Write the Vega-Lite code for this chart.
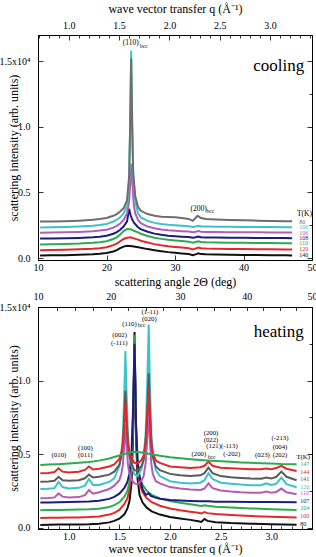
{
"$schema":"https://vega.github.io/schema/vega-lite/v6.json",
"padding":{"left":-2,"top":1,"right":0,"bottom":0},
"config":{"font":"Liberation Serif","view":{"stroke":"black","strokeWidth":1},
"axis":{"grid":false,"domainColor":"black","tickColor":"black","labelColor":"black","titleColor":"black","labelFontSize":10,"titleFontSize":12,"titleFontWeight":"normal","labelFlush":false,"labelOverlap":false,"labelBound":false,"tickWidth":0.8,"domainWidth":0.8}},
"datasets":{
"cool":[
{"s":"140","x":10.3,"y":0.02},{"s":"140","x":12,"y":0.022},{"s":"140","x":14,"y":0.022},{"s":"140","x":16,"y":0.025},{"s":"140","x":18,"y":0.028},{"s":"140","x":19,"y":0.032},{"s":"140","x":20,"y":0.038},{"s":"140","x":21,"y":0.05},{"s":"140","x":21.5,"y":0.06},{"s":"140","x":22,"y":0.075},{"s":"140","x":22.5,"y":0.087},{"s":"140","x":23,"y":0.093},{"s":"140","x":23.5,"y":0.092},{"s":"140","x":24,"y":0.088},{"s":"140","x":24.6,"y":0.083},{"s":"140","x":25,"y":0.078},{"s":"140","x":26,"y":0.068},{"s":"140","x":27,"y":0.06},{"s":"140","x":28,"y":0.052},{"s":"140","x":29,"y":0.045},{"s":"140","x":30,"y":0.04},{"s":"140","x":31,"y":0.035},{"s":"140","x":32,"y":0.03},{"s":"140","x":32.6,"y":0.022},{"s":"140","x":33,"y":0.028},{"s":"140","x":33.4,"y":0.036},{"s":"140","x":33.8,"y":0.03},{"s":"140","x":34.5,"y":0.028},{"s":"140","x":36,"y":0.027},{"s":"140","x":38,"y":0.025},{"s":"140","x":40,"y":0.024},{"s":"140","x":42,"y":0.023},{"s":"140","x":44,"y":0.022},{"s":"140","x":46,"y":0.021},{"s":"140","x":47.1,"y":0.02},
{"s":"120","x":10.3,"y":0.06},{"s":"120","x":12,"y":0.062},{"s":"120","x":14,"y":0.063},{"s":"120","x":16,"y":0.066},{"s":"120","x":18,"y":0.07},{"s":"120","x":19,"y":0.075},{"s":"120","x":20,"y":0.082},{"s":"120","x":21,"y":0.098},{"s":"120","x":21.5,"y":0.11},{"s":"120","x":22,"y":0.128},{"s":"120","x":22.5,"y":0.145},{"s":"120","x":23,"y":0.155},{"s":"120","x":23.5,"y":0.158},{"s":"120","x":24,"y":0.15},{"s":"120","x":24.6,"y":0.14},{"s":"120","x":25,"y":0.132},{"s":"120","x":26,"y":0.118},{"s":"120","x":27,"y":0.106},{"s":"120","x":28,"y":0.097},{"s":"120","x":29,"y":0.09},{"s":"120","x":30,"y":0.085},{"s":"120","x":31,"y":0.08},{"s":"120","x":32,"y":0.075},{"s":"120","x":32.6,"y":0.066},{"s":"120","x":33,"y":0.072},{"s":"120","x":33.4,"y":0.08},{"s":"120","x":33.8,"y":0.074},{"s":"120","x":34.5,"y":0.072},{"s":"120","x":36,"y":0.07},{"s":"120","x":38,"y":0.069},{"s":"120","x":40,"y":0.068},{"s":"120","x":42,"y":0.067},{"s":"120","x":44,"y":0.066},{"s":"120","x":46,"y":0.065},{"s":"120","x":47.1,"y":0.065},
{"s":"110","x":10.3,"y":0.103},{"s":"110","x":12,"y":0.105},{"s":"110","x":14,"y":0.107},{"s":"110","x":16,"y":0.11},{"s":"110","x":18,"y":0.116},{"s":"110","x":19,"y":0.121},{"s":"110","x":20,"y":0.128},{"s":"110","x":21,"y":0.145},{"s":"110","x":21.5,"y":0.158},{"s":"110","x":22,"y":0.18},{"s":"110","x":22.5,"y":0.205},{"s":"110","x":23,"y":0.222},{"s":"110","x":23.5,"y":0.22},{"s":"110","x":24,"y":0.208},{"s":"110","x":24.6,"y":0.195},{"s":"110","x":25,"y":0.185},{"s":"110","x":26,"y":0.168},{"s":"110","x":27,"y":0.155},{"s":"110","x":28,"y":0.146},{"s":"110","x":29,"y":0.139},{"s":"110","x":30,"y":0.134},{"s":"110","x":31,"y":0.13},{"s":"110","x":32,"y":0.125},{"s":"110","x":32.6,"y":0.116},{"s":"110","x":33,"y":0.122},{"s":"110","x":33.4,"y":0.127},{"s":"110","x":33.8,"y":0.122},{"s":"110","x":34.5,"y":0.12},{"s":"110","x":36,"y":0.118},{"s":"110","x":38,"y":0.117},{"s":"110","x":40,"y":0.116},{"s":"110","x":42,"y":0.115},{"s":"110","x":44,"y":0.114},{"s":"110","x":46,"y":0.113},{"s":"110","x":47.1,"y":0.113},
{"s":"108","x":10.3,"y":0.148},{"s":"108","x":12,"y":0.149},{"s":"108","x":14,"y":0.15},{"s":"108","x":16,"y":0.153},{"s":"108","x":18,"y":0.158},{"s":"108","x":19,"y":0.163},{"s":"108","x":20,"y":0.17},{"s":"108","x":21,"y":0.185},{"s":"108","x":21.5,"y":0.198},{"s":"108","x":22,"y":0.215},{"s":"108","x":22.5,"y":0.24},{"s":"108","x":23,"y":0.28},{"s":"108","x":23.3,"y":0.375},{"s":"108","x":23.5,"y":0.33},{"s":"108","x":23.7,"y":0.3},{"s":"108","x":24,"y":0.27},{"s":"108","x":24.6,"y":0.235},{"s":"108","x":25,"y":0.22},{"s":"108","x":26,"y":0.2},{"s":"108","x":27,"y":0.186},{"s":"108","x":28,"y":0.177},{"s":"108","x":29,"y":0.17},{"s":"108","x":30,"y":0.166},{"s":"108","x":31,"y":0.163},{"s":"108","x":32,"y":0.16},{"s":"108","x":32.6,"y":0.154},{"s":"108","x":33,"y":0.158},{"s":"108","x":33.4,"y":0.163},{"s":"108","x":33.8,"y":0.159},{"s":"108","x":34.5,"y":0.157},{"s":"108","x":36,"y":0.156},{"s":"108","x":38,"y":0.155},{"s":"108","x":40,"y":0.154},{"s":"108","x":42,"y":0.153},{"s":"108","x":44,"y":0.152},{"s":"108","x":46,"y":0.152},{"s":"108","x":47.1,"y":0.151},
{"s":"106","x":10.3,"y":0.193},{"s":"106","x":12,"y":0.194},{"s":"106","x":14,"y":0.196},{"s":"106","x":16,"y":0.199},{"s":"106","x":18,"y":0.204},{"s":"106","x":19,"y":0.209},{"s":"106","x":20,"y":0.216},{"s":"106","x":21,"y":0.232},{"s":"106","x":21.5,"y":0.245},{"s":"106","x":22,"y":0.263},{"s":"106","x":22.5,"y":0.29},{"s":"106","x":23,"y":0.34},{"s":"106","x":23.3,"y":0.43},{"s":"106","x":23.5,"y":0.6},{"s":"106","x":23.65,"y":0.72},{"s":"106","x":23.8,"y":0.55},{"s":"106","x":24,"y":0.4},{"s":"106","x":24.2,"y":0.34},{"s":"106","x":24.6,"y":0.29},{"s":"106","x":25,"y":0.265},{"s":"106","x":26,"y":0.24},{"s":"106","x":27,"y":0.227},{"s":"106","x":28,"y":0.218},{"s":"106","x":29,"y":0.212},{"s":"106","x":30,"y":0.208},{"s":"106","x":31,"y":0.205},{"s":"106","x":32,"y":0.203},{"s":"106","x":32.6,"y":0.197},{"s":"106","x":33,"y":0.2},{"s":"106","x":33.4,"y":0.205},{"s":"106","x":33.8,"y":0.2},{"s":"106","x":34.5,"y":0.199},{"s":"106","x":36,"y":0.198},{"s":"106","x":38,"y":0.197},{"s":"106","x":40,"y":0.196},{"s":"106","x":42,"y":0.196},{"s":"106","x":44,"y":0.195},{"s":"106","x":46,"y":0.195},{"s":"106","x":47.1,"y":0.195},
{"s":"100","x":10.3,"y":0.233},{"s":"100","x":12,"y":0.234},{"s":"100","x":14,"y":0.236},{"s":"100","x":16,"y":0.24},{"s":"100","x":18,"y":0.246},{"s":"100","x":19,"y":0.252},{"s":"100","x":20,"y":0.26},{"s":"100","x":21,"y":0.278},{"s":"100","x":21.5,"y":0.292},{"s":"100","x":22,"y":0.31},{"s":"100","x":22.5,"y":0.34},{"s":"100","x":23,"y":0.4},{"s":"100","x":23.3,"y":0.58},{"s":"100","x":23.45,"y":1.0},{"s":"100","x":23.6,"y":1.58},{"s":"100","x":23.75,"y":1.05},{"s":"100","x":23.9,"y":0.62},{"s":"100","x":24.2,"y":0.43},{"s":"100","x":24.6,"y":0.34},{"s":"100","x":25,"y":0.31},{"s":"100","x":26,"y":0.283},{"s":"100","x":27,"y":0.268},{"s":"100","x":28,"y":0.259},{"s":"100","x":29,"y":0.253},{"s":"100","x":30,"y":0.249},{"s":"100","x":31,"y":0.246},{"s":"100","x":32,"y":0.243},{"s":"100","x":32.6,"y":0.236},{"s":"100","x":33,"y":0.24},{"s":"100","x":33.4,"y":0.245},{"s":"100","x":33.8,"y":0.241},{"s":"100","x":34.5,"y":0.24},{"s":"100","x":36,"y":0.239},{"s":"100","x":38,"y":0.238},{"s":"100","x":40,"y":0.237},{"s":"100","x":42,"y":0.236},{"s":"100","x":44,"y":0.236},{"s":"100","x":46,"y":0.235},{"s":"100","x":47.1,"y":0.235},
{"s":"80","x":10.3,"y":0.278},{"s":"80","x":12,"y":0.279},{"s":"80","x":14,"y":0.281},{"s":"80","x":16,"y":0.285},{"s":"80","x":18,"y":0.291},{"s":"80","x":19,"y":0.297},{"s":"80","x":20,"y":0.305},{"s":"80","x":21,"y":0.322},{"s":"80","x":21.5,"y":0.335},{"s":"80","x":22,"y":0.355},{"s":"80","x":22.5,"y":0.38},{"s":"80","x":23,"y":0.44},{"s":"80","x":23.3,"y":0.62},{"s":"80","x":23.45,"y":1.0},{"s":"80","x":23.6,"y":1.52},{"s":"80","x":23.75,"y":1.0},{"s":"80","x":23.9,"y":0.65},{"s":"80","x":24.2,"y":0.47},{"s":"80","x":24.6,"y":0.39},{"s":"80","x":25,"y":0.36},{"s":"80","x":26,"y":0.335},{"s":"80","x":27,"y":0.322},{"s":"80","x":28,"y":0.315},{"s":"80","x":29,"y":0.312},{"s":"80","x":30,"y":0.31},{"s":"80","x":31,"y":0.305},{"s":"80","x":32,"y":0.298},{"s":"80","x":32.6,"y":0.283},{"s":"80","x":33,"y":0.305},{"s":"80","x":33.3,"y":0.322},{"s":"80","x":33.8,"y":0.305},{"s":"80","x":34.5,"y":0.298},{"s":"80","x":36,"y":0.294},{"s":"80","x":38,"y":0.29},{"s":"80","x":40,"y":0.288},{"s":"80","x":42,"y":0.285},{"s":"80","x":44,"y":0.283},{"s":"80","x":46,"y":0.281},{"s":"80","x":47.1,"y":0.28}
],
"coolLab":[{"s":"80","x":48.15,"y":0.274},{"s":"100","x":48.15,"y":0.236},{"s":"106","x":48.15,"y":0.193},{"s":"108","x":48.15,"y":0.152},{"s":"110","x":48.15,"y":0.114},{"s":"120","x":48.15,"y":0.066},{"s":"140","x":48.15,"y":0.02}],
"coolAnn":[{"t":"(110)","x":23.55,"y":1.636},{"t":"(200)","x":33.46,"y":0.371},{"t":"T(K)","x":48.9,"y":0.333}],
"coolSub":[{"t":"bcc","x":25.45,"y":1.617},{"t":"bcc","x":35.15,"y":0.358}],
"heat":[
{"s":"80","x":0.72,"y":0.018},{"s":"80","x":0.8,"y":0.019},{"s":"80","x":0.9,"y":0.02},{"s":"80","x":1.0,"y":0.02},{"s":"80","x":1.1,"y":0.021},{"s":"80","x":1.2,"y":0.022},{"s":"80","x":1.3,"y":0.025},{"s":"80","x":1.4,"y":0.035},{"s":"80","x":1.45,"y":0.045},{"s":"80","x":1.5,"y":0.06},{"s":"80","x":1.55,"y":0.09},{"s":"80","x":1.58,"y":0.13},{"s":"80","x":1.6,"y":0.18},{"s":"80","x":1.62,"y":0.3},{"s":"80","x":1.635,"y":0.6},{"s":"80","x":1.645,"y":1.05},{"s":"80","x":1.65,"y":1.33},{"s":"80","x":1.655,"y":1.05},{"s":"80","x":1.665,"y":0.6},{"s":"80","x":1.68,"y":0.33},{"s":"80","x":1.7,"y":0.22},{"s":"80","x":1.73,"y":0.17},{"s":"80","x":1.77,"y":0.135},{"s":"80","x":1.82,"y":0.11},{"s":"80","x":1.9,"y":0.088},{"s":"80","x":2.0,"y":0.072},{"s":"80","x":2.1,"y":0.062},{"s":"80","x":2.2,"y":0.052},{"s":"80","x":2.28,"y":0.043},{"s":"80","x":2.31,"y":0.038},{"s":"80","x":2.34,"y":0.058},{"s":"80","x":2.37,"y":0.045},{"s":"80","x":2.45,"y":0.036},{"s":"80","x":2.6,"y":0.03},{"s":"80","x":2.8,"y":0.026},{"s":"80","x":3.0,"y":0.023},{"s":"80","x":3.25,"y":0.019},
{"s":"100","x":0.72,"y":0.065},{"s":"100","x":0.8,"y":0.066},{"s":"100","x":0.9,"y":0.067},{"s":"100","x":1.0,"y":0.068},{"s":"100","x":1.1,"y":0.069},{"s":"100","x":1.2,"y":0.071},{"s":"100","x":1.3,"y":0.075},{"s":"100","x":1.4,"y":0.088},{"s":"100","x":1.45,"y":0.1},{"s":"100","x":1.5,"y":0.12},{"s":"100","x":1.55,"y":0.16},{"s":"100","x":1.58,"y":0.2},{"s":"100","x":1.6,"y":0.26},{"s":"100","x":1.62,"y":0.38},{"s":"100","x":1.635,"y":0.7},{"s":"100","x":1.645,"y":1.05},{"s":"100","x":1.65,"y":1.28},{"s":"100","x":1.655,"y":1.05},{"s":"100","x":1.665,"y":0.65},{"s":"100","x":1.68,"y":0.4},{"s":"100","x":1.7,"y":0.3},{"s":"100","x":1.73,"y":0.24},{"s":"100","x":1.77,"y":0.2},{"s":"100","x":1.82,"y":0.172},{"s":"100","x":1.9,"y":0.148},{"s":"100","x":2.0,"y":0.13},{"s":"100","x":2.1,"y":0.118},{"s":"100","x":2.2,"y":0.108},{"s":"100","x":2.28,"y":0.1},{"s":"100","x":2.31,"y":0.096},{"s":"100","x":2.34,"y":0.105},{"s":"100","x":2.37,"y":0.098},{"s":"100","x":2.45,"y":0.092},{"s":"100","x":2.6,"y":0.085},{"s":"100","x":2.8,"y":0.078},{"s":"100","x":3.0,"y":0.073},{"s":"100","x":3.25,"y":0.068},
{"s":"104","x":0.72,"y":0.118},{"s":"104","x":0.8,"y":0.119},{"s":"104","x":0.9,"y":0.12},{"s":"104","x":1.0,"y":0.121},{"s":"104","x":1.1,"y":0.122},{"s":"104","x":1.2,"y":0.124},{"s":"104","x":1.3,"y":0.128},{"s":"104","x":1.4,"y":0.14},{"s":"104","x":1.45,"y":0.152},{"s":"104","x":1.5,"y":0.172},{"s":"104","x":1.55,"y":0.21},{"s":"104","x":1.58,"y":0.25},{"s":"104","x":1.6,"y":0.31},{"s":"104","x":1.62,"y":0.43},{"s":"104","x":1.635,"y":0.75},{"s":"104","x":1.645,"y":1.1},{"s":"104","x":1.65,"y":1.31},{"s":"104","x":1.655,"y":1.1},{"s":"104","x":1.665,"y":0.7},{"s":"104","x":1.68,"y":0.45},{"s":"104","x":1.7,"y":0.35},{"s":"104","x":1.73,"y":0.29},{"s":"104","x":1.77,"y":0.25},{"s":"104","x":1.82,"y":0.222},{"s":"104","x":1.9,"y":0.198},{"s":"104","x":2.0,"y":0.18},{"s":"104","x":2.1,"y":0.168},{"s":"104","x":2.2,"y":0.158},{"s":"104","x":2.28,"y":0.15},{"s":"104","x":2.31,"y":0.146},{"s":"104","x":2.34,"y":0.152},{"s":"104","x":2.37,"y":0.148},{"s":"104","x":2.45,"y":0.142},{"s":"104","x":2.6,"y":0.136},{"s":"104","x":2.8,"y":0.13},{"s":"104","x":3.0,"y":0.125},{"s":"104","x":3.25,"y":0.12},
{"s":"107","x":0.72,"y":0.17},{"s":"107","x":0.8,"y":0.171},{"s":"107","x":0.9,"y":0.172},{"s":"107","x":1.0,"y":0.173},{"s":"107","x":1.1,"y":0.175},{"s":"107","x":1.2,"y":0.177},{"s":"107","x":1.3,"y":0.182},{"s":"107","x":1.4,"y":0.195},{"s":"107","x":1.45,"y":0.208},{"s":"107","x":1.5,"y":0.23},{"s":"107","x":1.55,"y":0.27},{"s":"107","x":1.58,"y":0.31},{"s":"107","x":1.6,"y":0.37},{"s":"107","x":1.62,"y":0.5},{"s":"107","x":1.635,"y":0.8},{"s":"107","x":1.645,"y":1.1},{"s":"107","x":1.65,"y":1.25},{"s":"107","x":1.655,"y":1.1},{"s":"107","x":1.665,"y":0.7},{"s":"107","x":1.68,"y":0.45},{"s":"107","x":1.7,"y":0.34},{"s":"107","x":1.73,"y":0.26},{"s":"107","x":1.76,"y":0.222},{"s":"107","x":1.79,"y":0.232},{"s":"107","x":1.81,"y":0.215},{"s":"107","x":1.85,"y":0.205},{"s":"107","x":1.9,"y":0.196},{"s":"107","x":2.0,"y":0.188},{"s":"107","x":2.1,"y":0.184},{"s":"107","x":2.2,"y":0.181},{"s":"107","x":2.3,"y":0.178},{"s":"107","x":2.38,"y":0.179},{"s":"107","x":2.45,"y":0.176},{"s":"107","x":2.6,"y":0.175},{"s":"107","x":2.8,"y":0.174},{"s":"107","x":3.0,"y":0.173},{"s":"107","x":3.25,"y":0.172},
{"s":"110","x":0.72,"y":0.2},{"s":"110","x":0.8,"y":0.201},{"s":"110","x":0.86,"y":0.205},{"s":"110","x":0.9,"y":0.232},{"s":"110","x":0.94,"y":0.21},{"s":"110","x":1.0,"y":0.204},{"s":"110","x":1.1,"y":0.207},{"s":"110","x":1.16,"y":0.22},{"s":"110","x":1.2,"y":0.255},{"s":"110","x":1.24,"y":0.23},{"s":"110","x":1.3,"y":0.24},{"s":"110","x":1.4,"y":0.262},{"s":"110","x":1.45,"y":0.285},{"s":"110","x":1.5,"y":0.322},{"s":"110","x":1.52,"y":0.364},{"s":"110","x":1.535,"y":0.427},{"s":"110","x":1.55,"y":0.574},{"s":"110","x":1.56,"y":0.7},{"s":"110","x":1.57,"y":0.574},{"s":"110","x":1.585,"y":0.427},{"s":"110","x":1.6,"y":0.364},{"s":"110","x":1.62,"y":0.325},{"s":"110","x":1.65,"y":0.3},{"s":"110","x":1.68,"y":0.295},{"s":"110","x":1.72,"y":0.32},{"s":"110","x":1.74,"y":0.35},{"s":"110","x":1.76,"y":0.44},{"s":"110","x":1.775,"y":0.59},{"s":"110","x":1.79,"y":0.8},{"s":"110","x":1.8,"y":0.615},{"s":"110","x":1.815,"y":0.44},{"s":"110","x":1.83,"y":0.365},{"s":"110","x":1.86,"y":0.315},{"s":"110","x":1.9,"y":0.3},{"s":"110","x":2.0,"y":0.275},{"s":"110","x":2.1,"y":0.265},{"s":"110","x":2.2,"y":0.258},{"s":"110","x":2.3,"y":0.256},{"s":"110","x":2.34,"y":0.265},{"s":"110","x":2.38,"y":0.3},{"s":"110","x":2.42,"y":0.268},{"s":"110","x":2.5,"y":0.252},{"s":"110","x":2.6,"y":0.245},{"s":"110","x":2.7,"y":0.24},{"s":"110","x":2.8,"y":0.237},{"s":"110","x":2.9,"y":0.236},{"s":"110","x":2.95,"y":0.245},{"s":"110","x":3.0,"y":0.236},{"s":"110","x":3.05,"y":0.242},{"s":"110","x":3.1,"y":0.265},{"s":"110","x":3.15,"y":0.24},{"s":"110","x":3.25,"y":0.226},
{"s":"120","x":0.72,"y":0.262},{"s":"120","x":0.8,"y":0.263},{"s":"120","x":0.86,"y":0.268},{"s":"120","x":0.9,"y":0.31},{"s":"120","x":0.94,"y":0.275},{"s":"120","x":1.0,"y":0.266},{"s":"120","x":1.1,"y":0.27},{"s":"120","x":1.16,"y":0.285},{"s":"120","x":1.2,"y":0.33},{"s":"120","x":1.24,"y":0.29},{"s":"120","x":1.3,"y":0.29},{"s":"120","x":1.4,"y":0.31},{"s":"120","x":1.45,"y":0.335},{"s":"120","x":1.5,"y":0.417},{"s":"120","x":1.52,"y":0.5},{"s":"120","x":1.535,"y":0.635},{"s":"120","x":1.55,"y":0.94},{"s":"120","x":1.56,"y":1.2},{"s":"120","x":1.57,"y":0.94},{"s":"120","x":1.585,"y":0.635},{"s":"120","x":1.6,"y":0.5},{"s":"120","x":1.62,"y":0.42},{"s":"120","x":1.65,"y":0.36},{"s":"120","x":1.68,"y":0.35},{"s":"120","x":1.72,"y":0.4},{"s":"120","x":1.74,"y":0.465},{"s":"120","x":1.76,"y":0.65},{"s":"120","x":1.775,"y":0.96},{"s":"120","x":1.79,"y":1.38},{"s":"120","x":1.8,"y":1.02},{"s":"120","x":1.815,"y":0.65},{"s":"120","x":1.83,"y":0.5},{"s":"120","x":1.86,"y":0.39},{"s":"120","x":1.9,"y":0.35},{"s":"120","x":2.0,"y":0.315},{"s":"120","x":2.1,"y":0.305},{"s":"120","x":2.2,"y":0.3},{"s":"120","x":2.3,"y":0.305},{"s":"120","x":2.34,"y":0.322},{"s":"120","x":2.38,"y":0.37},{"s":"120","x":2.42,"y":0.33},{"s":"120","x":2.5,"y":0.305},{"s":"120","x":2.6,"y":0.298},{"s":"120","x":2.7,"y":0.292},{"s":"120","x":2.8,"y":0.288},{"s":"120","x":2.9,"y":0.288},{"s":"120","x":2.95,"y":0.3},{"s":"120","x":3.0,"y":0.29},{"s":"120","x":3.05,"y":0.298},{"s":"120","x":3.1,"y":0.34},{"s":"120","x":3.15,"y":0.295},{"s":"120","x":3.25,"y":0.274},
{"s":"141","x":0.72,"y":0.312},{"s":"141","x":0.8,"y":0.313},{"s":"141","x":0.86,"y":0.318},{"s":"141","x":0.9,"y":0.345},{"s":"141","x":0.94,"y":0.322},{"s":"141","x":1.0,"y":0.318},{"s":"141","x":1.1,"y":0.322},{"s":"141","x":1.16,"y":0.335},{"s":"141","x":1.2,"y":0.36},{"s":"141","x":1.24,"y":0.34},{"s":"141","x":1.3,"y":0.345},{"s":"141","x":1.4,"y":0.36},{"s":"141","x":1.45,"y":0.38},{"s":"141","x":1.5,"y":0.426},{"s":"141","x":1.52,"y":0.482},{"s":"141","x":1.535,"y":0.566},{"s":"141","x":1.55,"y":0.762},{"s":"141","x":1.56,"y":0.93},{"s":"141","x":1.57,"y":0.762},{"s":"141","x":1.585,"y":0.566},{"s":"141","x":1.6,"y":0.482},{"s":"141","x":1.62,"y":0.43},{"s":"141","x":1.65,"y":0.39},{"s":"141","x":1.68,"y":0.385},{"s":"141","x":1.72,"y":0.42},{"s":"141","x":1.74,"y":0.46},{"s":"141","x":1.76,"y":0.58},{"s":"141","x":1.775,"y":0.78},{"s":"141","x":1.79,"y":1.05},{"s":"141","x":1.8,"y":0.815},{"s":"141","x":1.815,"y":0.58},{"s":"141","x":1.83,"y":0.48},{"s":"141","x":1.86,"y":0.415},{"s":"141","x":1.9,"y":0.39},{"s":"141","x":2.0,"y":0.365},{"s":"141","x":2.1,"y":0.355},{"s":"141","x":2.2,"y":0.35},{"s":"141","x":2.3,"y":0.355},{"s":"141","x":2.34,"y":0.37},{"s":"141","x":2.38,"y":0.407},{"s":"141","x":2.42,"y":0.37},{"s":"141","x":2.5,"y":0.35},{"s":"141","x":2.6,"y":0.342},{"s":"141","x":2.7,"y":0.337},{"s":"141","x":2.8,"y":0.333},{"s":"141","x":2.9,"y":0.332},{"s":"141","x":2.95,"y":0.34},{"s":"141","x":3.0,"y":0.333},{"s":"141","x":3.05,"y":0.345},{"s":"141","x":3.1,"y":0.38},{"s":"141","x":3.15,"y":0.345},{"s":"141","x":3.25,"y":0.322},
{"s":"144","x":0.72,"y":0.37},{"s":"144","x":0.8,"y":0.371},{"s":"144","x":0.86,"y":0.378},{"s":"144","x":0.9,"y":0.403},{"s":"144","x":0.94,"y":0.38},{"s":"144","x":1.0,"y":0.375},{"s":"144","x":1.1,"y":0.38},{"s":"144","x":1.16,"y":0.392},{"s":"144","x":1.2,"y":0.415},{"s":"144","x":1.24,"y":0.395},{"s":"144","x":1.3,"y":0.4},{"s":"144","x":1.4,"y":0.415},{"s":"144","x":1.45,"y":0.43},{"s":"144","x":1.5,"y":0.467},{"s":"144","x":1.52,"y":0.51},{"s":"144","x":1.535,"y":0.572},{"s":"144","x":1.55,"y":0.72},{"s":"144","x":1.56,"y":0.85},{"s":"144","x":1.57,"y":0.72},{"s":"144","x":1.585,"y":0.572},{"s":"144","x":1.6,"y":0.51},{"s":"144","x":1.62,"y":0.47},{"s":"144","x":1.65,"y":0.44},{"s":"144","x":1.68,"y":0.435},{"s":"144","x":1.72,"y":0.46},{"s":"144","x":1.74,"y":0.49},{"s":"144","x":1.76,"y":0.585},{"s":"144","x":1.775,"y":0.74},{"s":"144","x":1.79,"y":0.95},{"s":"144","x":1.8,"y":0.77},{"s":"144","x":1.815,"y":0.585},{"s":"144","x":1.83,"y":0.508},{"s":"144","x":1.86,"y":0.456},{"s":"144","x":1.9,"y":0.44},{"s":"144","x":2.0,"y":0.415},{"s":"144","x":2.1,"y":0.41},{"s":"144","x":2.2,"y":0.405},{"s":"144","x":2.3,"y":0.41},{"s":"144","x":2.34,"y":0.42},{"s":"144","x":2.38,"y":0.448},{"s":"144","x":2.42,"y":0.42},{"s":"144","x":2.5,"y":0.407},{"s":"144","x":2.6,"y":0.403},{"s":"144","x":2.7,"y":0.4},{"s":"144","x":2.8,"y":0.397},{"s":"144","x":2.9,"y":0.396},{"s":"144","x":2.95,"y":0.402},{"s":"144","x":3.0,"y":0.397},{"s":"144","x":3.05,"y":0.405},{"s":"144","x":3.1,"y":0.42},{"s":"144","x":3.15,"y":0.4},{"s":"144","x":3.25,"y":0.385},
{"s":"147","x":0.72,"y":0.425},{"s":"147","x":0.8,"y":0.428},{"s":"147","x":0.9,"y":0.431},{"s":"147","x":1.0,"y":0.435},{"s":"147","x":1.1,"y":0.44},{"s":"147","x":1.2,"y":0.445},{"s":"147","x":1.3,"y":0.455},{"s":"147","x":1.4,"y":0.47},{"s":"147","x":1.5,"y":0.49},{"s":"147","x":1.55,"y":0.5},{"s":"147","x":1.6,"y":0.51},{"s":"147","x":1.65,"y":0.515},{"s":"147","x":1.7,"y":0.512},{"s":"147","x":1.75,"y":0.507},{"s":"147","x":1.8,"y":0.5},{"s":"147","x":1.9,"y":0.488},{"s":"147","x":2.0,"y":0.478},{"s":"147","x":2.1,"y":0.471},{"s":"147","x":2.2,"y":0.465},{"s":"147","x":2.3,"y":0.46},{"s":"147","x":2.4,"y":0.455},{"s":"147","x":2.5,"y":0.451},{"s":"147","x":2.6,"y":0.447},{"s":"147","x":2.7,"y":0.443},{"s":"147","x":2.8,"y":0.44},{"s":"147","x":2.9,"y":0.437},{"s":"147","x":3.0,"y":0.435},{"s":"147","x":3.1,"y":0.432},{"s":"147","x":3.25,"y":0.43}
],
"heatLab":[{"s":"147","x":3.285,"y":0.432},{"s":"144","x":3.285,"y":0.38},{"s":"141","x":3.285,"y":0.33},{"s":"120","x":3.285,"y":0.278},{"s":"110","x":3.285,"y":0.233},{"s":"107","x":3.285,"y":0.181},{"s":"104","x":3.285,"y":0.131},{"s":"100","x":3.285,"y":0.079},{"s":"80","x":3.285,"y":0.025}],
"heatAnn":[{"t":"(010)","x":0.904,"y":0.493},{"t":"(100)","x":1.164,"y":0.54},{"t":"(011)","x":1.164,"y":0.493},{"t":"(002)","x":1.503,"y":1.308},{"t":"(-111)","x":1.5,"y":1.258},{"t":"(110)","x":1.6,"y":1.387},{"t":"(1-11)","x":1.802,"y":1.466},{"t":"(020)","x":1.797,"y":1.421},{"t":"(200)","x":2.405,"y":0.644},{"t":"(022)","x":2.405,"y":0.598},{"t":"(121)(-113)","x":2.513,"y":0.552},{"t":"(200)","x":2.285,"y":0.498},{"t":"(-202)","x":2.61,"y":0.498},{"t":"(023)","x":2.913,"y":0.493},{"t":"(-213)","x":3.086,"y":0.606},{"t":"(004)","x":3.086,"y":0.55},{"t":"(202)","x":3.086,"y":0.493},{"t":"T(K)","x":3.315,"y":0.477}],
"heatSub":[{"t":"bcc","x":1.72,"y":1.375},{"t":"bcc","x":2.41,"y":0.482}]
},
"bounds":"flush",
"spacing":47,
"resolve":{"scale":{"x":"independent","y":"independent","color":"independent"}},
"vconcat":[
{"width":274,"height":225,
"resolve":{"scale":{"x":"independent"},"axis":{"x":"independent","y":"independent"}},
"layer":[
{"layer":[
{"data":{"name":"cool"},"mark":{"type":"line","strokeWidth":2,"clip":true},
"encoding":{
"x":{"field":"x","type":"quantitative","scale":{"domain":[10,50],"nice":false,"zero":false},
"axis":{"orient":"bottom","values":[10,12.5,15,17.5,20,22.5,25,27.5,30,32.5,35,37.5,40,42.5,45,47.5,50],"labelExpr":"datum.value % 10 === 0 ? format(datum.value,'d') : ''","labelOverlap":false,"tickSize":{"condition":{"test":"datum.value % 10 === 0","value":-5},"value":-3},"labelPadding":7,"title":"scattering angle 2Θ (deg)","titlePadding":4}},
"y":{"field":"y","type":"quantitative","scale":{"domain":[-0.015,1.7],"nice":false,"zero":false},
"axis":{"orient":"left","values":[0,0.25,0.5,0.75,1,1.25,1.5],"labelExpr":"datum.value === 1.5 ? '1.5x10⁴' : (datum.value*2 === round(datum.value*2) ? format(datum.value,'.1f') : '')","labelOverlap":false,"tickSize":{"condition":{"test":"datum.value*2 === round(datum.value*2)","value":-5},"value":-3},"labelPadding":13,"title":"scattering intensity (arb. units)","titleX":-18}},
"color":{"field":"s","type":"nominal","scale":{"domain":["80","100","106","108","110","120","140"],"range":["#6e6e6e","#3cc3c8","#b55db5","#1c1c7e","#2eaa50","#e2282a","#111111"]},"legend":null}}},
{"data":{"name":"coolLab"},"mark":{"type":"text","align":"left","baseline":"middle","fontSize":6},
"encoding":{"x":{"field":"x","type":"quantitative"},"y":{"field":"y","type":"quantitative"},"text":{"field":"s"},"color":{"field":"s","type":"nominal","legend":null}}},
{"data":{"name":"coolAnn"},"mark":{"type":"text","baseline":"middle","fontSize":7.5,"color":"black"},
"encoding":{"x":{"field":"x","type":"quantitative"},"y":{"field":"y","type":"quantitative"},"text":{"field":"t"}}},
{"data":{"name":"coolSub"},"mark":{"type":"text","baseline":"middle","fontSize":5.5,"color":"black"},
"encoding":{"x":{"field":"x","type":"quantitative"},"y":{"field":"y","type":"quantitative"},"text":{"field":"t"}}},
{"data":{"values":[{"t":"cooling","x":45.14,"y":1.461}]},"mark":{"type":"text","baseline":"middle","fontSize":17,"color":"black"},
"encoding":{"x":{"field":"x","type":"quantitative"},"y":{"field":"y","type":"quantitative"},"text":{"field":"t"}}}
]},
{"data":{"values":[{"q":0.695,"y":0},{"q":3.416,"y":0}]},"mark":{"type":"point","opacity":0},
"encoding":{
"x":{"field":"q","type":"quantitative","scale":{"domain":[0.695,3.416],"nice":false,"zero":false},
"axis":{"orient":"top","values":[0.7,0.8,0.9,1.0,1.1,1.2,1.3,1.4,1.5,1.6,1.7,1.8,1.9,2.0,2.1,2.2,2.3,2.4,2.5,2.6,2.7,2.8,2.9,3.0,3.1,3.2,3.3,3.4],"labelExpr":"abs(datum.value*2-round(datum.value*2))<0.001 && datum.value>0.95 && datum.value<3.05 ? format(datum.value,'.1f') : ''","labelOverlap":false,"tickSize":{"condition":{"test":"abs(datum.value*2-round(datum.value*2))<0.001","value":-5},"value":-3},"labelPadding":10,"title":"wave vector transfer q (Å⁻¹)","titlePadding":3}},
"y":{"field":"y","type":"quantitative","scale":{"domain":[-0.015,1.7],"nice":false,"zero":false},
"axis":{"orient":"right","values":[0,0.25,0.5,0.75,1,1.25,1.5],"labels":false,"tickSize":{"condition":{"test":"datum.value*2 === round(datum.value*2)","value":-5},"value":-3},"title":null}}}}
]},
{"width":274,"height":222,
"resolve":{"scale":{"x":"independent"},"axis":{"x":"independent","y":"independent"}},
"layer":[
{"layer":[
{"data":{"name":"heat"},"mark":{"type":"line","strokeWidth":2,"clip":true},
"encoding":{
"x":{"field":"x","type":"quantitative","scale":{"domain":[0.697,3.402],"nice":false,"zero":false},
"axis":{"orient":"bottom","values":[1.0,1.5,2.0,2.5,3.0],"format":".1f","labelOverlap":false,"tickSize":-5,"labelPadding":7,"title":"wave vector transfer q (Å⁻¹)","titlePadding":2}},
"y":{"field":"y","type":"quantitative","scale":{"domain":[-0.01,1.5],"nice":false,"zero":false},
"axis":{"orient":"left","values":[0,0.25,0.5,0.75,1,1.25,1.5],"labelExpr":"datum.value === 1.5 ? '1.5x10⁴' : (datum.value*2 === round(datum.value*2) ? format(datum.value,'.1f') : '')","labelOverlap":false,"tickSize":{"condition":{"test":"datum.value*2 === round(datum.value*2)","value":-5},"value":-3},"labelPadding":13,"title":"scattering intensity (arb. units)","titleX":-18}},
"color":{"field":"s","type":"nominal","scale":{"domain":["147","144","141","120","110","107","104","100","80"],"range":["#2eaa50","#e2282a","#5a5a5a","#3cc3c8","#b55db5","#1c1c7e","#2eaa50","#e2282a","#111111"]},"legend":null}}},
{"data":{"name":"heatLab"},"mark":{"type":"text","align":"left","baseline":"middle","fontSize":6},
"encoding":{"x":{"field":"x","type":"quantitative"},"y":{"field":"y","type":"quantitative"},"text":{"field":"s"},"color":{"field":"s","type":"nominal","legend":null}}},
{"data":{"name":"heatAnn"},"mark":{"type":"text","baseline":"middle","fontSize":6.8,"color":"black"},
"encoding":{"x":{"field":"x","type":"quantitative"},"y":{"field":"y","type":"quantitative"},"text":{"field":"t"}}},
{"data":{"name":"heatSub"},"mark":{"type":"text","baseline":"middle","fontSize":5.5,"color":"black"},
"encoding":{"x":{"field":"x","type":"quantitative"},"y":{"field":"y","type":"quantitative"},"text":{"field":"t"}}},
{"data":{"values":[{"t":"heating","x":3.073,"y":1.331}]},"mark":{"type":"text","baseline":"middle","fontSize":17,"color":"black"},
"encoding":{"x":{"field":"x","type":"quantitative"},"y":{"field":"y","type":"quantitative"},"text":{"field":"t"}}}
]},
{"data":{"values":[{"t":10,"y":0},{"t":50,"y":0}]},"mark":{"type":"point","opacity":0},
"encoding":{
"x":{"field":"t","type":"quantitative","scale":{"type":"pow","exponent":0.9,"domain":[10,50],"nice":false,"zero":false},
"axis":{"orient":"top","values":[10,12.5,15,17.5,20,22.5,25,27.5,30,32.5,35,37.5,40,42.5,45,47.5,50],"labelExpr":"datum.value % 10 === 0 ? format(datum.value,'d') : ''","labelOverlap":false,"tickSize":-3.5,"labelPadding":9,"title":null}},
"y":{"field":"y","type":"quantitative","scale":{"domain":[-0.01,1.5],"nice":false,"zero":false},
"axis":{"orient":"right","values":[0,0.25,0.5,0.75,1,1.25,1.5],"labels":false,"tickSize":{"condition":{"test":"datum.value*2 === round(datum.value*2)","value":-5},"value":-3},"title":null}}}},
{"data":{"values":[{"m":0.697},{"m":3.402}]},"mark":{"type":"point","opacity":0},
"encoding":{
"x":{"field":"m","type":"quantitative","scale":{"domain":[0.697,3.402],"nice":false,"zero":false},
"axis":{"orient":"bottom","values":[0.7,0.8,0.9,1.1,1.2,1.3,1.4,1.6,1.7,1.8,1.9,2.1,2.2,2.3,2.4,2.6,2.7,2.8,2.9,3.1,3.2,3.3],"labels":false,"tickSize":-3,"domain":false,"title":null}}}}
]}
]
}
